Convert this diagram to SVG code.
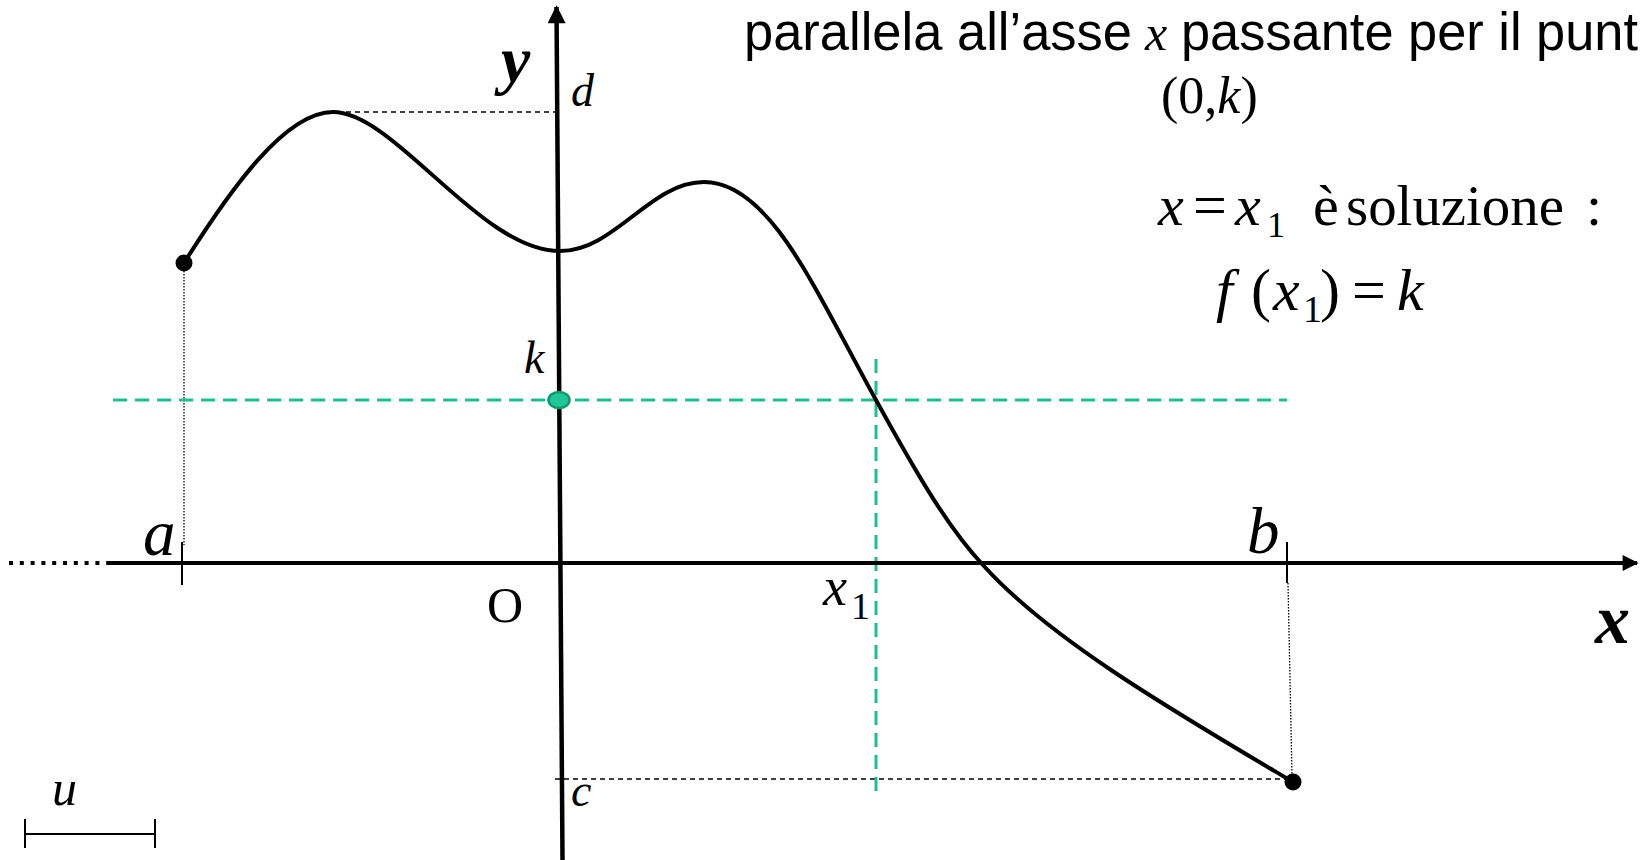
<svg xmlns="http://www.w3.org/2000/svg" width="1643" height="860" viewBox="0 0 1643 860">
<style>
.t{font-family:"Liberation Serif","Times New Roman",serif;fill:#000}
.i{font-style:italic}
.bi{font-style:italic;font-weight:bold}
.s{font-family:"Liberation Sans",Arial,sans-serif;fill:#000}
.dash{stroke:#000;stroke-width:1.3;stroke-dasharray:5 4;fill:none}
.dot{stroke:#000;stroke-width:1.3;stroke-dasharray:1.5 1.5;fill:none}
.green{stroke:#1cc08f;stroke-width:3;stroke-dasharray:14 8;fill:none}
.tick{stroke:#000;stroke-width:2;fill:none}
</style>
<defs>
<marker id="arr" viewBox="0 0 10 10" refX="9" refY="5" markerWidth="4.5" markerHeight="4" markerUnits="strokeWidth" orient="auto">
<path d="M0,0 L10,5 L0,10 z" fill="#000"/>
</marker>
</defs>
<rect width="1643" height="860" fill="#fff"/>
<g id="guides">
<line class="dash" x1="346" y1="112" x2="557" y2="112"/>
<line class="dash" x1="555" y1="779" x2="1290" y2="779"/>
<line class="dot" x1="184" y1="271" x2="184" y2="545"/>
<line class="dot" x1="1288" y1="583" x2="1292" y2="776"/>
<line class="green" x1="113" y1="400" x2="1287" y2="400"/>
<line class="green" x1="876" y1="359" x2="876" y2="796"/>
</g>
<g id="axes">
<line x1="9" y1="563" x2="110" y2="563" stroke="#000" stroke-width="4" stroke-dasharray="4 6.8"/>
<line x1="110" y1="563" x2="1637" y2="563" stroke="#000" stroke-width="4" marker-end="url(#arr)"/>
<line x1="562.5" y1="860" x2="556.5" y2="7" stroke="#000" stroke-width="4.5" marker-end="url(#arr)"/>
<line class="tick" x1="182" y1="542" x2="182" y2="585"/>
<line class="tick" x1="1287" y1="542" x2="1287" y2="583"/>
</g>
<g id="curve">
<path d="M184,263 C230,190 285,112 333,112 C395,112 480,251 560,251 C615,251 650,182 704,182 C770,182 815,290 876,400 C920,480 950,530 983,565 C1050,640 1180,715 1293,782" fill="none" stroke="#000" stroke-width="4"/>
<circle cx="184" cy="263" r="8.5" fill="#000"/>
<circle cx="1293" cy="782" r="8.5" fill="#000"/>
</g>
<g id="point-k">
<ellipse cx="559" cy="400" rx="10.5" ry="8" fill="#20c898" stroke="#0c9a6e" stroke-width="2.5"/>
</g>
<g id="unit">
<line class="tick" x1="25" y1="834" x2="155" y2="834"/>
<line class="tick" x1="25" y1="819" x2="25" y2="848"/>
<line class="tick" x1="155" y1="819" x2="155" y2="848"/>
<text class="t i" x="52" y="805" font-size="50">u</text>
</g>
<g id="labels">
<text class="t bi" x="501" y="82" font-size="66">y</text>
<text class="t i" x="571" y="106" font-size="46">d</text>
<text class="t i" x="524" y="373" font-size="46">k</text>
<text class="t i" x="143" y="555" font-size="65">a</text>
<text class="t i" x="1247" y="553" font-size="65">b</text>
<text class="t" x="487" y="622" font-size="50">O</text>
<text class="t i" x="823" y="605" font-size="54">x</text>
<text class="t" x="851" y="619" font-size="38">1</text>
<text class="t bi" x="1595" y="643" font-size="70">x</text>
<text class="t i" x="571" y="806" font-size="46">c</text>
</g>
<g id="caption">
<text class="s" x="744" y="50" font-size="53" textLength="388" lengthAdjust="spacingAndGlyphs">parallela all’asse</text>
<text class="t i" x="1145" y="50" font-size="50">x</text>
<text class="s" x="1181" y="50" font-size="53" textLength="457" lengthAdjust="spacingAndGlyphs">passante per il punt</text>
<text class="t" x="1161" y="113" font-size="52">(0,<tspan class="i">k</tspan>)</text>
</g>
<g id="equations">
<text class="t i" x="1158" y="225" font-size="58">x</text>
<text class="t" x="1193" y="225" font-size="60">=</text>
<text class="t i" x="1235" y="225" font-size="58">x</text>
<text class="t" x="1267" y="237" font-size="36">1</text>
<text class="t" x="1313" y="225" font-size="58">è</text>
<text class="t" x="1346" y="225" font-size="58" textLength="218" lengthAdjust="spacingAndGlyphs">soluzione</text>
<text class="t" x="1586" y="225" font-size="58">:</text>
<text class="t i" x="1216" y="310" font-size="60">f</text>
<text class="t" x="1251" y="310" font-size="60">(</text>
<text class="t i" x="1273" y="310" font-size="60">x</text>
<text class="t" x="1303" y="322" font-size="38">1</text>
<text class="t" x="1320" y="310" font-size="60">)</text>
<text class="t" x="1352" y="310" font-size="60">=</text>
<text class="t i" x="1397" y="310" font-size="60">k</text>
</g>
</svg>
